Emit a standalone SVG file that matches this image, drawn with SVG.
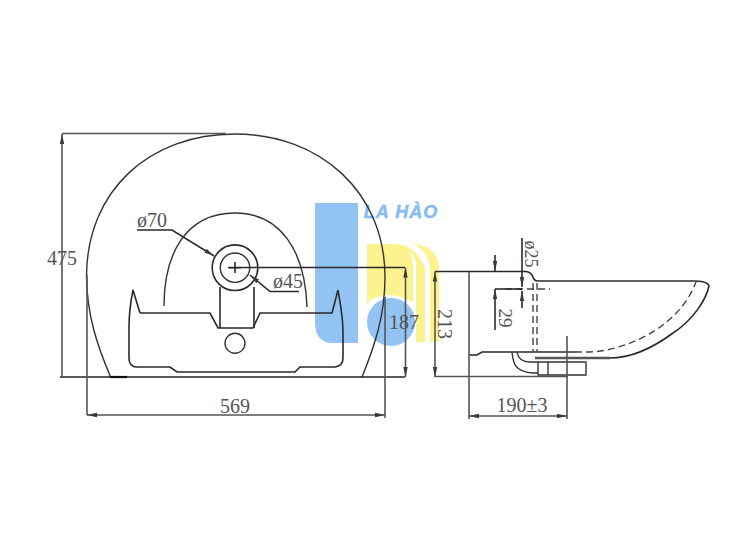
<svg xmlns="http://www.w3.org/2000/svg" width="750" height="560" viewBox="0 0 750 560">
<defs>
<marker id="arr" viewBox="0 0 10 6" refX="10" refY="3" markerWidth="10" markerHeight="6" markerUnits="userSpaceOnUse" orient="auto-start-reverse"><path d="M0 0.8L10 3L0 5.2z" fill="#3a3a3a"/></marker>
</defs>
<style>
.l{fill:none;stroke:#333;stroke-width:1.4}
.d{fill:none;stroke:#555;stroke-width:1.6}
.k{fill:none;stroke:#2a2a2a;stroke-width:1.6}
.h{fill:none;stroke:#444;stroke-width:1.4;stroke-dasharray:7 4}
.t{font-family:"Liberation Serif",serif;font-size:20px;fill:#555;text-anchor:middle}
.wb{fill:#92c3f2}
.wy{fill:#fdf38e}
</style>
<rect width="750" height="560" fill="#fff"/>
<g id="watermark">
<path class="wb" d="M315 203H358V343H333Q315 343 315 322Z"/>
<path class="wy" d="M367 244H396Q413 246 413 268V302Q400 295 389 295Q376 295 367 303Z"/>
<path class="wy" d="M398 244Q416 246 425 268V342H416V262Q412 250 398 244Z"/>
<path class="wy" d="M413 244Q439 246 439 270V342H430V266Q427 250 413 244Z"/>
<circle class="wb" cx="391" cy="322" r="24"/>
<text x="401" y="218" font-family="'Liberation Sans',sans-serif" font-size="18" font-weight="700" font-style="italic" fill="#86bdf2" stroke="#86bdf2" stroke-width="0.5" text-anchor="middle" letter-spacing="1">LA HÀO</text>
</g>
<g id="front-view">
<path class="l" d="M110.600 377C97 345 87 315 86.500 277C86.500 190 150 134 235 134C320 134 385 192 385 277C385 315 375 345 362 377"/>
<path class="l" d="M164 306C164 255 185 213 235 213C280 213 305 250 307 307"/>
<path class="k" d="M140 313L133 290C130 305 129 315 129 327V358Q129 367 137 367H170L177 372H295L300 367H335Q343 366 343 358V333C343 315 340 303 338 290L332 313H260L253 328H218L210 313H140"/>
<path class="k" d="M220 287V328M254 287V328"/>
<circle class="k" cx="235" cy="267.700" r="22.800"/>
<circle class="l" cx="235" cy="267.700" r="14.700"/>
<circle class="l" cx="235" cy="343.300" r="10"/>
<path class="k" d="M235 262V273M229 267.700H241"/>
</g>
<g id="side-view">
<path class="k" d="M469 271.500H526Q531 272 533 277Q534 281 538 281H693Q708 281 709 286C706 300 693 320 673 333C650 350 630 358 610 358H535"/>
<path class="k" d="M469 355H477L482 352H575"/>
<path class="h" d="M575 352H590C630 350 680 325 696 282"/>
<path class="h" d="M533 283V352M537 283V352M505 289H550"/>
<path class="l" d="M512 352C513 362 514 372 533 373H538M517 352C518 358 522 362 530 362H586V375H548M538 362V375H548V362"/>
<path d="M535 358H610" fill="none" stroke="#555" stroke-width="2.500"/>
</g>
<g id="dimensions">
<path class="d" d="M62 133.500H226"/>
<path class="d" d="M60 377H405" style="stroke:#222"/>
<path d="M110 377H127" fill="none" stroke="#111" stroke-width="2.200"/>
<path class="d" d="M62 378V134" marker-end="url(#arr)"/>
<path class="d" d="M87 275V415M385 297V418"/>
<path class="d" d="M87 415H385" marker-start="url(#arr)" marker-end="url(#arr)"/>
<path class="k" d="M228 267.500H405"/>
<path class="d" d="M405.500 267.500V377" marker-start="url(#arr)" marker-end="url(#arr)"/>
<path class="k" d="M435 271.500H469"/>
<path class="d" d="M435 271.500V377" marker-start="url(#arr)" marker-end="url(#arr)"/>
<path class="d" d="M435 376.500H568"/>
<path class="d" d="M469 272V419M567 336V419"/>
<path class="d" d="M469 416H567" marker-start="url(#arr)" marker-end="url(#arr)"/>
<path class="k" d="M495 255V271" marker-end="url(#arr)"/>
<path class="k" d="M495 289H522"/>
<path class="k" d="M495 330V289" marker-end="url(#arr)"/>
<path class="k" d="M522 238V287" marker-end="url(#arr)"/>
<path class="k" d="M522 308V291" marker-end="url(#arr)"/>
<path class="k" d="M137 230H172L214 256" marker-end="url(#arr)"/>
<path class="k" d="M299 291.500H270L250 275" marker-end="url(#arr)"/>
</g>
<g id="labels">
<text class="t" x="62" y="265">475</text>
<text class="t" x="235" y="413">569</text>
<text class="t" x="152" y="227">ø70</text>
<text class="t" x="288" y="288">ø45</text>
<text class="t" x="404" y="329" fill="#444">187</text>
<text class="t" transform="translate(438 324) rotate(90)">213</text>
<text class="t" transform="translate(499 318) rotate(90)" style="font-size:19px">29</text>
<text class="t" transform="translate(525 254) rotate(90)" style="font-size:18px">ø25</text>
<text class="t" x="522" y="412">190±3</text>
</g>
</svg>
